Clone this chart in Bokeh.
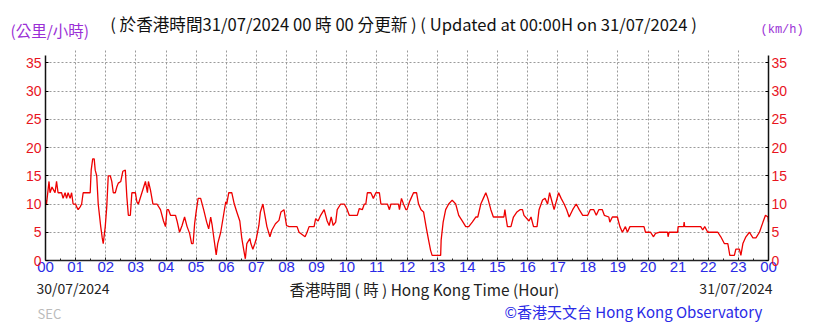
from bokeh.plotting import figure
from bokeh.models import Range1d, FixedTicker, LinearAxis, Label, Grid
from bokeh.embed import file_html
from bokeh.resources import INLINE

# ---- data (minutes after 00:00 HKT on 30/07/2024, wind speed km/h) ----
minutes = [0,2,7,9,13,19,22,25,32,35,39,42,45,49,52,55,60,62,65,69,72,75,82,89,91,94,97,99,102,105,
           110,113,115,119,122,125,129,132,135,139,142,145,150,154,159,162,165,169,172,179,182,185,192,199,
           203,205,209,214,222,229,235,239,242,245,249,259,262,267,272,277,282,287,291,294,297,300,304,309,
           315,321,325,329,332,335,340,343,349,354,359,
           361,365,371,376,381,387,391,395,398,401,407,409,413,417,420,425,428,433,437,441,447,451,458,465,
           469,475,480,485,501,505,517,521,525,535,538,543,548,555,561,565,569,573,578,581,588,595,600,605,
           621,625,631,635,638,641,648,653,658,665,668,681,685,688,703,705,709,713,718,
           720,725,728,733,739,743,748,753,758,763,767,770,787,788,792,797,803,810,817,823,830,837,843,850,
           857,861,867,872,877,881,887,892,900,913,915,917,920,927,932,939,945,950,953,959,963,967,972,979,
           983,990,995,1000,1004,1010,1013,1018,1022,1027,1033,1038,1043,1050,1057,1063,1070,1080,1085,
           1092,1097,1102,1109,1113,1122,1124,1129,1139,1144,1149,1155,1159,1164,1192,1195,1205,1211,1215,
           1222,1239,1240,1242,1259,1260,1271,1272,1273,1305,1309,1313,1319,1339,1345,1352,1359,1363,1372,
           1375,1382,1385,1389,1395,1402,1409,1415,1422,1429,1434,1439,1440]
speed = [10.7,10,14,12,13,12,14,12,12,11,12,11,12,11,12,10,10,9.5,9,9.5,10,12,12,12,16,18,18,16,15,10,
         6,4,3,6,9.5,15,15,14,12,12,13,13.7,14,15.8,16,11.3,8,8,12,12,10.4,10,12,14,
         12,14,12.5,10,10,9,7,6,9,9,8,8,7,5,6.2,7.7,6,4.8,3,3,6.5,8.6,11,11,
         9,6.8,5.6,7.7,6.2,4.2,1,3,5,7.7,10.4,
         10,12,12,10,8.6,7,3.9,1.8,0.3,3,3.9,3,2,3,3.9,6.2,8.6,10,8,6,4.2,5.4,6.5,7.1,
         8.6,9,6.2,6,6,5,4.2,5,6,6,7.4,7,8,9,7,6.2,7.7,6.2,6.8,9,10,10,9.2,8,
         8,9.2,9,10,10,12,12,11,12,12,10,10,9,10,10,9,11,10,9,
         9,10.4,11,12,12,10,9,8.6,6,3.6,1.8,0.9,0.9,3.6,6.8,9,10,10.7,10,8,7,6,6,6.8,
         7.7,7.7,10,11,12,11,9,7.7,7.7,7.7,9,7.7,6,6,7.7,8.6,9,9,8,7.4,7,7.7,6,6,
         9,10.7,11,10,12,10,9,10.7,12,11,10,9,7.7,9,10,9,8,8,9,
         9,8,9,9,8,7.7,6.8,7.7,7.7,6,5,6,5,6,6,5,5,4.2,4.8,
         5,5,4.2,5,5,6,6,6.8,6,6,5.4,6,5,5,4.2,3,3,0.9,0.9,
         2,2,0.9,3,4.2,5,4,4,5,6.8,8,7.7,6.8]
hour_labels = ["00","01","02","03","04","05","06","07","08","09","10","11","12",
               "13","14","15","16","17","18","19","20","21","22","23","00"]
y_ticks = [0, 5, 10, 15, 20, 25, 30, 35]

title_text = "( 於香港時間31/07/2024 00 時 00 分更新 ) ( Updated at 00:00H on 31/07/2024 )"
unit_cn = "(公里/小時)"
unit_en = "(km/h)"
date_start = "30/07/2024"
date_end = "31/07/2024"
x_title = "香港時間 ( 時 ) Hong Kong Time (Hour)"
credit = "©香港天文台 Hong Kong Observatory"
station = "SEC"

hours = [m / 60 for m in minutes]

# ---- layout (pixels on the 819x323 canvas) ----
W, H = 819, 323
PL, PR, PT, PB = 45, 768, 55, 260     # plot area edges
X0, X1 = 0, 24                         # hours shown
Y0, Y1 = 0, 36.3                       # km/h shown
ppx = (PR - PL) / (X1 - X0)
ppy = (PB - PT) / (Y1 - Y0)

CJK = "Noto Sans CJK TC"
TICKF = "Liberation Sans"

p = figure(width=W, height=H, output_backend="svg", toolbar_location=None,
           x_range=Range1d(X0 - PL / ppx, X1 + (W - PR) / ppx),
           y_range=Range1d(Y0 - (H - PB) / ppy, Y1 + PT / ppy),
           min_border=0, min_border_left=0, min_border_right=0,
           min_border_top=0, min_border_bottom=0,
           background_fill_color="white", border_fill_color="white")
p.outline_line_color = None

# x axis (fixed at y=0)
xa = p.xaxis[0]
xa.fixed_location = Y0
xa.bounds = (X0, X1)
xa.ticker = FixedTicker(ticks=list(range(25)), minor_ticks=[h + 0.5 for h in range(24)])
xa.major_label_overrides = {i: lab for i, lab in enumerate(hour_labels)}
xa.major_label_text_color = "#2a2ae6"
xa.major_label_text_font = TICKF
xa.major_label_text_font_size = "15px"
xa.major_label_standoff = 1
xa.major_tick_in = 3
xa.major_tick_out = 0
xa.minor_tick_in = 2
xa.minor_tick_out = 0
xa.axis_line_color = "#222222"
xa.axis_line_width = 1.5
xa.major_tick_line_color = "#222222"
xa.minor_tick_line_color = "#222222"

# left axis (fixed at x=0)
ya = p.yaxis[0]
ya.fixed_location = X0
ya.bounds = (Y0, Y1)
ya.ticker = FixedTicker(ticks=y_ticks)
ya.major_label_text_color = "#e8141e"
ya.major_label_text_font = TICKF
ya.major_label_text_font_size = "14px"
ya.major_label_standoff = 4
ya.major_tick_in = 3
ya.major_tick_out = 0
ya.minor_tick_line_color = None
ya.axis_line_color = "#111111"
ya.axis_line_width = 1.5

# right axis (fixed at x=24)
ra = LinearAxis(ticker=FixedTicker(ticks=y_ticks), fixed_location=X1, bounds=(Y0, Y1))
ra.major_label_text_color = "#e8141e"
ra.major_label_text_font = TICKF
ra.major_label_text_font_size = "14px"
ra.major_label_standoff = 3
ra.major_tick_in = 3
ra.major_tick_out = 0
ra.minor_tick_line_color = None
ra.axis_line_color = "#111111"
ra.axis_line_width = 1.5
p.add_layout(ra, "right")

# grids
grid_x = list(range(1, 24))
grid_y = y_ticks[1:]
has_cross = "cross_bounds" in Grid.properties()
p.xgrid.ticker = FixedTicker(ticks=grid_x)
p.ygrid.ticker = FixedTicker(ticks=grid_y)
for g in (p.xgrid[0], p.ygrid[0]):
    g.grid_line_color = "#9a9a9a"
    g.grid_line_dash = "2 2"
    g.grid_line_width = 1
if has_cross:
    p.xgrid[0].cross_bounds = (Y0, Y1 + 1.2)
    p.ygrid[0].cross_bounds = (X0, X1)
else:
    p.xgrid[0].visible = False
    p.ygrid[0].visible = False
    p.segment(x0=grid_x, y0=[Y0] * len(grid_x), x1=grid_x, y1=[Y1 + 1.2] * len(grid_x),
              line_color="#9a9a9a", line_dash="2 2", line_width=1)
    p.segment(x0=[X0] * len(grid_y), y0=grid_y, x1=[X1] * len(grid_y), y1=grid_y,
              line_color="#9a9a9a", line_dash="2 2", line_width=1)

p.line(hours, speed, line_color="#ee0000", line_width=1.3)

# texts: screen units, x from canvas left, y from canvas bottom
def add_label(cx, cy, text, color, size, font, align="left"):
    p.add_layout(Label(x=cx, y=H - cy, x_units="screen", y_units="screen", text=text,
                       text_color=color, text_font_size=size, text_font=font,
                       text_align=align, text_baseline="middle"))

add_label(403, 23, title_text, "#111111", "16.6px", CJK, align="center")
add_label(10, 29, unit_cn, "#9a2fd6", "15.5px", CJK)
add_label(760, 29, unit_en, "#9a2fd6", "12px", "Liberation Mono")
add_label(36, 287, date_start, "#222222", "14px", CJK)
add_label(289, 288, x_title, "#222222", "15.4px", CJK)
add_label(772, 287, date_end, "#222222", "14px", CJK, align="right")
add_label(37, 313, station, "#bbbbbb", "13px", CJK)
add_label(504, 311, credit, "#2a2ae6", "15px", CJK)

open("out.html", "w").write(file_html(p, INLINE))
